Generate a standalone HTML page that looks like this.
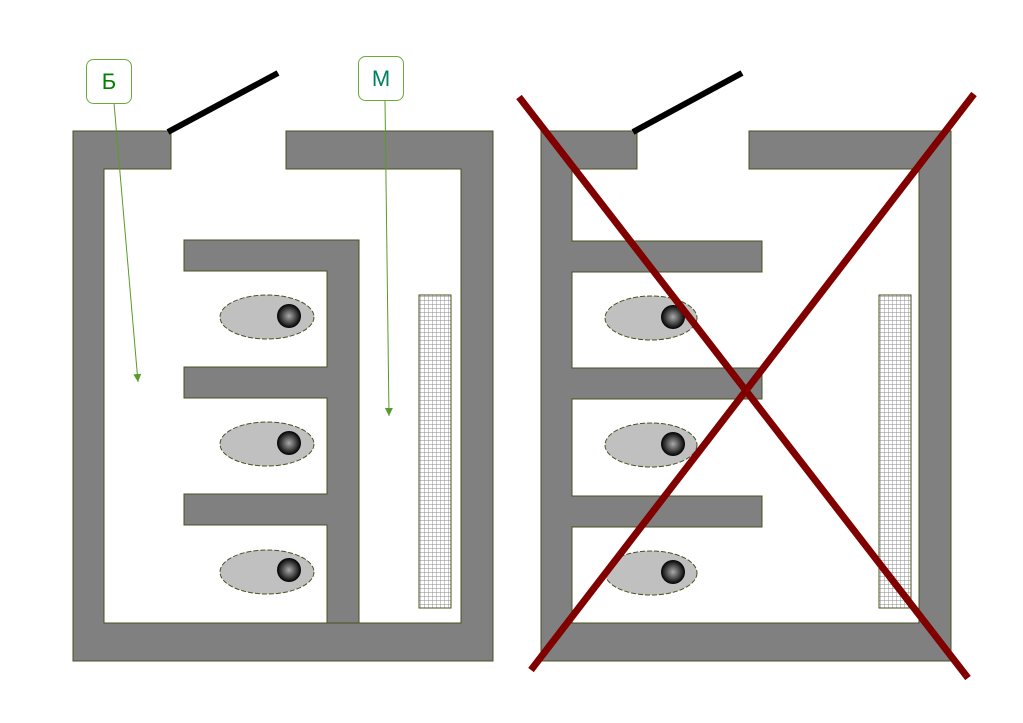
<!DOCTYPE html>
<html><head><meta charset="utf-8"><style>html,body{margin:0;padding:0;background:#fff}svg{display:block}</style></head><body>
<svg width="1023" height="723" viewBox="0 0 1023 723" xmlns="http://www.w3.org/2000/svg">
<defs>
<pattern id="g" width="4" height="4" patternUnits="userSpaceOnUse"><rect width="4" height="4" fill="#fff"/><path d="M0 0H4M0 0V4" stroke="#888" stroke-width="0.9"/></pattern>
<radialGradient id="b" cx="0.5" cy="0.5" r="0.5"><stop offset="0" stop-color="#aaa"/><stop offset="0.7" stop-color="#333"/><stop offset="1" stop-color="#000"/></radialGradient>
<marker id="ar" markerWidth="10" markerHeight="10" refX="8" refY="4" orient="auto" markerUnits="userSpaceOnUse"><path d="M0,0 L8,4 L0,8z" fill="#5a9a2a"/></marker>
</defs>
<rect width="1023" height="723" fill="#fff"/>
<g fill="#808080" stroke="#4a5020" stroke-width="1">
<path d="M73,131H171V169H104V623H461V169H286V131H493V661H73Z"/>
<path d="M184,240H359V623H327V525H184V494H327V398H184V367H327V271H184Z"/>
<path d="M541,131H637V169H572V241H762V272H572V368H762V399H572V496H762V527H572V623H919V169H749V131H951V661H541Z"/>
</g>
<rect x="419" y="295" width="32" height="313" fill="url(#g)" stroke="#4a5020"/>
<rect x="879" y="295" width="32" height="313" fill="url(#g)" stroke="#4a5020"/>
<g fill="#c0c0c0" stroke="#4a5020" stroke-dasharray="5,2">
<ellipse cx="267" cy="317" rx="47" ry="22"/><ellipse cx="267" cy="444" rx="47" ry="22"/><ellipse cx="267" cy="572" rx="47" ry="22"/>
<ellipse cx="651" cy="318" rx="46" ry="22"/><ellipse cx="651" cy="445" rx="46" ry="22"/><ellipse cx="651" cy="573" rx="46" ry="22"/>
</g>
<g fill="url(#b)">
<circle cx="289" cy="316" r="12"/><circle cx="289" cy="443" r="12"/><circle cx="289" cy="570" r="12"/>
<circle cx="673" cy="317" r="12"/><circle cx="673" cy="444" r="12"/><circle cx="673" cy="572" r="12"/>
</g>
<line x1="168" y1="132" x2="278" y2="73" stroke="#000" stroke-width="6"/>
<line x1="633" y1="132" x2="742" y2="73" stroke="#000" stroke-width="6"/>
<line x1="114" y1="103" x2="138" y2="382" stroke="#5a9a2a" stroke-width="1" marker-end="url(#ar)"/>
<line x1="385" y1="100" x2="389" y2="416" stroke="#5a9a2a" stroke-width="1" marker-end="url(#ar)"/>
<rect x="86.5" y="59.5" width="45" height="44" rx="7" fill="#fff" stroke="#6aaa3a"/>
<rect x="358.5" y="56.5" width="45" height="44" rx="7" fill="#fff" stroke="#6aaa3a"/>
<text x="109" y="89" font-family="Liberation Sans, DejaVu Sans, sans-serif" font-size="22" fill="#008000" text-anchor="middle">Б</text>
<text x="381" y="86" font-family="Liberation Sans, DejaVu Sans, sans-serif" font-size="22" fill="#008060" text-anchor="middle">М</text>
<g stroke="#800000" stroke-width="7">
<line x1="519" y1="97" x2="968" y2="678"/>
<line x1="974" y1="94" x2="531" y2="670"/>
</g>
</svg>
</body></html>
